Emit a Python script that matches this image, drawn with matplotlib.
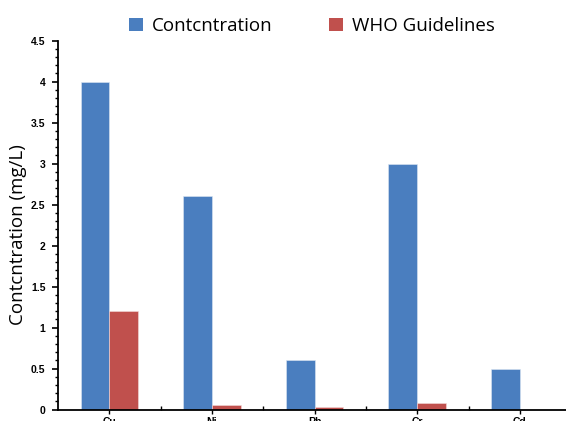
import matplotlib
matplotlib.use("Agg")
import matplotlib.pyplot as plt
import numpy as np
from matplotlib.ticker import MultipleLocator, FixedLocator
from matplotlib.patches import Patch

categories = ["Cu", "Ni", "Pb", "Cr", "Cd"]
concentration = [4.0, 2.6, 0.6, 3.0, 0.5]
who_guidelines = [1.2, 0.05, 0.03, 0.08, 0.0]
yticks = [0, 0.5, 1, 1.5, 2, 2.5, 3, 3.5, 4, 4.5]
ytick_labels = ["0", "0.5", "1", "1.5", "2", "2.5", "3", "3.5", "4", "4.5"]

blue = "#4a7ebf"
red = "#c0504d"

fig = plt.figure(figsize=(5.66, 4.21), dpi=100)
ax = fig.add_axes([58/566, 11.5/421, 1 - 58/566, (409.5-40.7)/421])

x = np.arange(len(categories))
w = 0.28
ax.bar(x - w/2, concentration, width=w, color=blue, edgecolor="#dce6f2", linewidth=0.4)
ax.bar(x + w/2, who_guidelines, width=w, color=red, edgecolor="#f2dcdb", linewidth=0.4)

ax.set_xlim(-0.5, 4.45)
ax.set_ylim(0, 4.5)
for s in ["top", "right"]:
    ax.spines[s].set_visible(False)
ax.spines["left"].set_linewidth(1.3)
ax.spines["bottom"].set_linewidth(1.3)

ax.yaxis.set_major_locator(FixedLocator(yticks))
ax.set_yticklabels(ytick_labels, fontsize=7.5, fontweight="bold", family="Liberation Sans")
ax.yaxis.set_minor_locator(MultipleLocator(0.1))
ax.tick_params(axis="y", which="major", length=4, width=1.2, direction="out", pad=5)
ax.tick_params(axis="y", which="minor", length=2.5, width=1.0, direction="out")

ax.set_xticks(x)
ax.set_xticklabels(categories, fontsize=7.5, fontweight="bold", family="Liberation Sans")
ax.set_xticks(x[:-1] + 0.5, minor=True)
ax.tick_params(axis="x", which="major", length=3, width=1.0, direction="out", pad=2.5)
ax.tick_params(axis="x", which="minor", length=3, width=1.0, direction="in")

ax.set_ylabel("Contcntration (mg/L)", fontsize=13.5, family="Open Sans")
ax.yaxis.set_label_coords(-0.061, 0.473)

handles = [Patch(facecolor=blue, label="Contcntration"), Patch(facecolor=red, label="WHO Guidelines")]
fig.legend(handles=handles, loc="center", bbox_to_anchor=(312/566, 1 - 26/421), ncol=2,
           frameon=False, prop={"family": "Open Sans", "size": 13.5}, handlelength=0.75,
           handleheight=0.75, handletextpad=0.5, columnspacing=3.0)

fig.savefig("out.png", dpi=100)
